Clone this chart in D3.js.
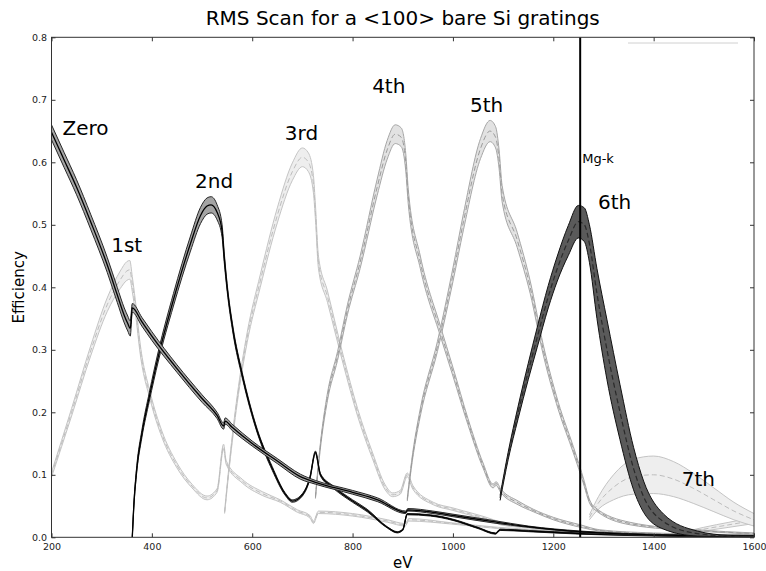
<!DOCTYPE html>
<html>
<head>
<meta charset="utf-8">
<script src="https://cdn.jsdelivr.net/npm/d3@7"></script>
<style>
  body { margin: 0; background: #fff; }
  svg { display: block; font-family: "DejaVu Sans", sans-serif; }
</style>
</head>
<body>
<div id="chart"></div>
<script>
// axis ticks
const xTicks = [200, 400, 600, 800, 1000, 1200, 1400, 1600];
const yTicks = [0, 0.1, 0.2, 0.3, 0.4, 0.5, 0.6, 0.7, 0.8];
const mgK = 1253.6;

// zero order: energy (eV), mean efficiency, half spread
const eZero = [200, 225, 250, 278, 311, 331, 345, 352, 357, 361, 380, 400, 450, 500, 530, 543, 546, 560, 600, 650, 696, 726, 800, 850, 906, 910, 960, 1000, 1080, 1150, 1254, 1350, 1450, 1600];
const mZero = [0.648, 0.604, 0.560, 0.505, 0.436, 0.388, 0.355, 0.342, 0.334, 0.367, 0.345, 0.322, 0.270, 0.222, 0.195, 0.178, 0.186, 0.176, 0.150, 0.122, 0.097, 0.088, 0.072, 0.060, 0.040, 0.044, 0.040, 0.035, 0.025, 0.017, 0.009, 0.005, 0.003, 0.002];
const sZero = [0.012, 0.012, 0.012, 0.012, 0.012, 0.012, 0.012, 0.012, 0.012, 0.007, 0.007, 0.007, 0.006, 0.006, 0.005, 0.005, 0.005, 0.005, 0.004, 0.004, 0.004, 0.003, 0.003, 0.003, 0.002, 0.002, 0.002, 0.002, 0.002, 0.001, 0.001, 0.001, 0.001, 0.001];

// 1st order
const e1 = [200, 240, 278, 311, 337, 350, 356, 361, 367, 377, 397, 420, 450, 480, 510, 530, 543, 548, 580, 620, 656, 690, 715, 722, 732, 800, 870, 905, 912, 1000, 1090, 1254, 1400, 1600];
const m1 = [0.100, 0.200, 0.298, 0.372, 0.412, 0.426, 0.428, 0.405, 0.370, 0.300, 0.225, 0.165, 0.115, 0.082, 0.063, 0.075, 0.145, 0.120, 0.090, 0.070, 0.058, 0.042, 0.033, 0.024, 0.040, 0.036, 0.026, 0.020, 0.028, 0.022, 0.015, 0.008, 0.004, 0.002];
const s1 = [0.004, 0.006, 0.008, 0.011, 0.014, 0.015, 0.015, 0.012, 0.010, 0.008, 0.006, 0.005, 0.004, 0.003, 0.003, 0.003, 0.004, 0.003, 0.003, 0.003, 0.002, 0.002, 0.002, 0.002, 0.002, 0.002, 0.002, 0.002, 0.002, 0.001, 0.001, 0.001, 0.001, 0.001];

// 2nd order
const e2 = [361, 364, 370, 380, 395, 413, 443, 477, 497, 510, 518, 530, 540, 544, 550, 562, 580, 610, 640, 665, 680, 700, 715, 726, 736, 762, 800, 829, 869, 889, 900, 909, 955, 1000, 1050, 1085, 1094, 1150, 1254, 1400, 1600];
const m2 = [0.000, 0.050, 0.110, 0.165, 0.225, 0.290, 0.380, 0.470, 0.515, 0.530, 0.532, 0.520, 0.490, 0.450, 0.400, 0.330, 0.260, 0.170, 0.110, 0.070, 0.058, 0.068, 0.095, 0.136, 0.100, 0.080, 0.058, 0.043, 0.016, 0.008, 0.012, 0.037, 0.035, 0.028, 0.015, 0.006, 0.012, 0.010, 0.006, 0.003, 0.001];
const s2 = [0.001, 0.003, 0.005, 0.006, 0.007, 0.008, 0.010, 0.012, 0.013, 0.013, 0.013, 0.012, 0.010, 0.008, 0.006, 0.005, 0.004, 0.003, 0.003, 0.002, 0.002, 0.002, 0.002, 0.002, 0.002, 0.002, 0.002, 0.002, 0.001, 0.001, 0.001, 0.001, 0.001, 0.001, 0.001, 0.001, 0.001, 0.001, 0.001, 0.001, 0.001];

// 3rd order
const e3 = [545, 555, 570, 590, 616, 650, 680, 700, 712, 722, 726, 732, 750, 781, 810, 840, 865, 880, 895, 909, 920, 961, 1000, 1085, 1095, 1150, 1254, 1400, 1600];
const m3 = [0.040, 0.120, 0.220, 0.320, 0.410, 0.515, 0.585, 0.608, 0.600, 0.565, 0.520, 0.440, 0.385, 0.285, 0.200, 0.130, 0.080, 0.068, 0.072, 0.100, 0.080, 0.054, 0.045, 0.025, 0.022, 0.016, 0.008, 0.004, 0.002];
const s3 = [0.002, 0.004, 0.006, 0.008, 0.010, 0.012, 0.014, 0.015, 0.015, 0.014, 0.012, 0.010, 0.009, 0.007, 0.006, 0.005, 0.004, 0.003, 0.003, 0.003, 0.003, 0.002, 0.002, 0.002, 0.002, 0.001, 0.001, 0.001, 0.001];

// 4th order
const e4 = [726, 735, 750, 770, 790, 815, 849, 869, 885, 897, 906, 911, 935, 975, 1000, 1030, 1060, 1080, 1086, 1095, 1130, 1160, 1200, 1254, 1293, 1400, 1600];
const m4 = [0.064, 0.140, 0.225, 0.290, 0.365, 0.440, 0.560, 0.620, 0.645, 0.640, 0.600, 0.545, 0.440, 0.330, 0.265, 0.185, 0.115, 0.082, 0.086, 0.075, 0.055, 0.043, 0.030, 0.018, 0.011, 0.006, 0.003];
const s4 = [0.002, 0.004, 0.006, 0.007, 0.008, 0.010, 0.013, 0.015, 0.015, 0.015, 0.014, 0.012, 0.010, 0.008, 0.007, 0.005, 0.004, 0.003, 0.003, 0.003, 0.003, 0.002, 0.002, 0.002, 0.001, 0.001, 0.001];

// 5th order
const e5 = [909, 918, 935, 969, 1000, 1021, 1055, 1074, 1085, 1092, 1098, 1128, 1154, 1180, 1210, 1240, 1262, 1271, 1280, 1353, 1487, 1600];
const m5 = [0.060, 0.120, 0.200, 0.305, 0.420, 0.505, 0.622, 0.650, 0.640, 0.605, 0.550, 0.476, 0.400, 0.300, 0.210, 0.140, 0.085, 0.060, 0.048, 0.022, 0.011, 0.006];
const s5 = [0.002, 0.004, 0.006, 0.008, 0.011, 0.013, 0.016, 0.017, 0.017, 0.015, 0.013, 0.012, 0.010, 0.008, 0.006, 0.005, 0.004, 0.003, 0.002, 0.002, 0.001, 0.001];

// 6th order
const e6 = [1094, 1110, 1130, 1150, 1168, 1190, 1208, 1230, 1250, 1262, 1272, 1287, 1307, 1333, 1360, 1380, 1420, 1487, 1550, 1600];
const m6 = [0.063, 0.130, 0.200, 0.265, 0.320, 0.385, 0.430, 0.475, 0.505, 0.500, 0.470, 0.390, 0.300, 0.200, 0.110, 0.065, 0.025, 0.006, 0.002, 0.001];
const s6 = [0.004, 0.006, 0.010, 0.013, 0.016, 0.018, 0.020, 0.024, 0.026, 0.027, 0.030, 0.040, 0.048, 0.044, 0.034, 0.025, 0.012, 0.004, 0.001, 0.001];

// 7th order
const e7 = [1272, 1290, 1320, 1360, 1400, 1440, 1480, 1520, 1560, 1600];
const m7 = [0.032, 0.055, 0.080, 0.097, 0.100, 0.093, 0.078, 0.060, 0.042, 0.028];
const s7 = [0.004, 0.010, 0.020, 0.028, 0.030, 0.028, 0.024, 0.019, 0.014, 0.010];

// 8th order
const e8 = [1453, 1470, 1500, 1550, 1600];
const m8 = [0.004, 0.008, 0.013, 0.020, 0.027];
const s8 = [0.001, 0.002, 0.003, 0.004, 0.005];

// order labels and where they sit (eV, efficiency)
const labelNames = ["Zero", "1st", "2nd", "3rd", "4th", "5th", "6th", "7th"];
const labelE = [222, 319, 486, 665, 839, 1034, 1289, 1456];
const labelY = [0.644, 0.456, 0.559, 0.636, 0.711, 0.680, 0.525, 0.082];

const width = 766, height = 571;
const margin = { top: 37.3, right: 12, bottom: 33.7, left: 51.5 },
    w = width - margin.left - margin.right,
    h = height - margin.top - margin.bottom;

const svg = d3.select("#chart")
    .append("svg")
    .attr("width", width)
    .attr("height", height);

const g = svg.append("g")
    .attr("transform", "translate(" + margin.left + "," + margin.top + ")");

var x = d3.scaleLinear().domain([200, 1600]).range([0, w]);
var y = d3.scaleLinear().domain([0, 0.8]).range([h, 0]);

g.append("clipPath").attr("id", "clip")
    .append("rect").attr("width", w).attr("height", h);

const plot = g.append("g").attr("clip-path", "url(#clip)");

// styles: fill of the band, its edges, the mean line
const styles = {
    dark:  { fill: "#a4a4a4", edge: "#262626", mean: "#000", dash: null, mw: 1.3 },
    light: { fill: "#eeeeee", edge: "#c4c4c4", mean: "#bdbdbd", dash: "5,3", mw: 1 },
    mid:   { fill: "#e2e2e2", edge: "#a6a6a6", mean: "#9a9a9a", dash: "5,3", mw: 1 },
    six:   { fill: "#5a5a5a", edge: "#111", mean: "#2a2a2a", dash: "5,3", mw: 1.2 }
};

const orders = [
    { e: e8, m: m8, s: s8, st: "light" },
    { e: e7, m: m7, s: s7, st: "light" },
    { e: e1, m: m1, s: s1, st: "light" },
    { e: e3, m: m3, s: s3, st: "light" },
    { e: e5, m: m5, s: s5, st: "mid" },
    { e: e4, m: m4, s: s4, st: "mid" },
    { e: e2, m: m2, s: s2, st: "dark" },
    { e: eZero, m: mZero, s: sZero, st: "dark" },
    { e: e6, m: m6, s: s6, st: "six" }
];

orders.forEach(function (o) {
    const st = styles[o.st];
    const pts = o.e.map(function (e, i) {
        return { e: e, m: o.m[i], lo: Math.max(0, o.m[i] - o.s[i]), hi: o.m[i] + o.s[i] };
    });

    plot.append("path")
        .datum(pts)
        .attr("fill", st.fill)
        .attr("stroke", "none")
        .attr("d", d3.area()
            .curve(d3.curveMonotoneX)
            .x(function (d) { return x(d.e); })
            .y0(function (d) { return y(d.lo); })
            .y1(function (d) { return y(d.hi); }));

    ["lo", "hi"].forEach(function (k) {
        plot.append("path")
            .datum(pts)
            .attr("fill", "none")
            .attr("stroke", st.edge)
            .attr("stroke-width", 1)
            .attr("d", d3.line()
                .curve(d3.curveMonotoneX)
                .x(function (d) { return x(d.e); })
                .y(function (d) { return y(d[k]); }));
    });

    plot.append("path")
        .datum(pts)
        .attr("fill", "none")
        .attr("stroke", st.mean)
        .attr("stroke-width", st.mw)
        .attr("stroke-dasharray", st.dash)
        .attr("d", d3.line()
            .curve(d3.curveMonotoneX)
            .x(function (d) { return x(d.e); })
            .y(function (d) { return y(d.m); }));
});

// Mg-K line
g.append("line")
    .attr("x1", x(mgK)).attr("x2", x(mgK))
    .attr("y1", 0).attr("y2", h)
    .attr("stroke", "#000")
    .attr("stroke-width", 2);

g.append("text")
    .attr("x", x(mgK) + 2)
    .attr("y", y(0.599))
    .style("font-size", "13px")
    .text("Mg-k");

// empty legend remnant, top right
g.append("line")
    .attr("x1", 576.5).attr("x2", 686.5)
    .attr("y1", 5.7).attr("y2", 5.7)
    .attr("stroke", "#d0d0d0")
    .attr("stroke-width", 1);

// order labels
g.selectAll(".lbl")
    .data(labelNames)
    .enter().append("text")
    .attr("class", "lbl")
    .attr("x", function (d, i) { return x(labelE[i]); })
    .attr("y", function (d, i) { return y(labelY[i]); })
    .style("font-size", "20px")
    .text(function (d) { return d; });

// axes, ticks inside on all four sides
const xAxis = g.append("g")
    .attr("transform", "translate(0," + h + ")")
    .call(d3.axisBottom(x).tickValues(xTicks).tickFormat(d3.format("d"))
        .tickSizeInner(-4).tickSizeOuter(0).tickPadding(5.5));
const yAxis = g.append("g")
    .call(d3.axisLeft(y).tickValues(yTicks).tickFormat(d3.format(".1f"))
        .tickSizeInner(-4).tickSizeOuter(0).tickPadding(4.5));
const xTop = g.append("g")
    .call(d3.axisTop(x).tickValues(xTicks).tickFormat("")
        .tickSizeInner(-4).tickSizeOuter(0));
const yRight = g.append("g")
    .attr("transform", "translate(" + w + ",0)")
    .call(d3.axisRight(y).tickValues(yTicks).tickFormat("")
        .tickSizeInner(-4).tickSizeOuter(0));

[xAxis, yAxis, xTop, yRight].forEach(function (a) {
    a.select(".domain").remove();
    a.selectAll("text").style("font-size", "9.5px").style("font-family", "DejaVu Sans").attr("fill", "#222");
    a.selectAll("line").attr("stroke", "#333");
});

// frame
g.append("rect")
    .attr("width", w).attr("height", h)
    .attr("fill", "none")
    .attr("stroke", "#333")
    .attr("stroke-width", 1);

// title
svg.append("text")
    .attr("x", margin.left + w / 2)
    .attr("y", 25)
    .attr("text-anchor", "middle")
    .style("font-size", "20px")
    .text("RMS Scan for a <100> bare Si gratings");

// axis labels
svg.append("text")
    .attr("x", margin.left + w / 2)
    .attr("y", 568)
    .attr("text-anchor", "middle")
    .style("font-size", "15px")
    .text("eV");

svg.append("text")
    .attr("transform", "translate(24," + (margin.top + h / 2) + ") rotate(-90)")
    .attr("text-anchor", "middle")
    .style("font-size", "15px")
    .text("Efficiency");
</script>
</body>
</html>
